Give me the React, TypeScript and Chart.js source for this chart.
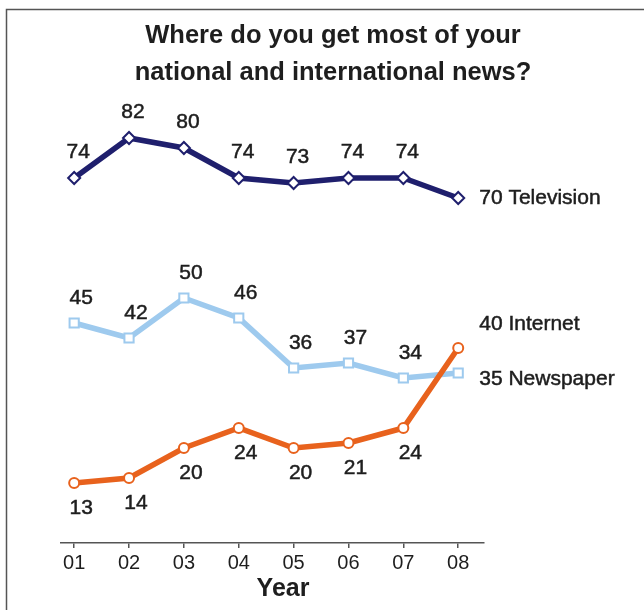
import React, { useEffect, useRef } from "react";
import { Chart, registerables } from "chart.js";

Chart.register(...registerables);

const years = ["01", "02", "03", "04", "05", "06", "07", "08"];
const television = [74, 82, 80, 74, 73, 74, 74, 70];
const internet = [13, 14, 20, 24, 20, 21, 24, 40];
const newspaper = [45, 42, 50, 46, 36, 37, 34, 35];
const seriesNames = ["Internet", "Newspaper", "Television"];
const titleLines = ["Where do you get most of your", "national and international news?"];
const axisTitle = "Year";

const FONT = "'Liberation Sans', Arial, Helvetica, sans-serif";
const TEXT = "#1e1e1e";
const NAVY = "#1f1f6d";
const LIGHT = "#9ecaee";
const ORANGE = "#e8621d";

// label placement per series (index matches datasets)
const labelStyle = [
  { dx: 7, dy: 25, endDy: -24 },
  { dx: 7, dy: -25, endDy: 6 },
  { dx: 4, dy: -26, endDy: 0 },
];

function heavyText(ctx: any, text: string, x: number, y: number, w = 0.5) {
  ctx.fillText(text, x, y);
  ctx.lineWidth = w;
  ctx.strokeStyle = ctx.fillStyle;
  ctx.strokeText(text, x, y);
}

const decorPlugin = {
  id: "decor",
  beforeDraw(chart: any) {
    const ctx = chart.ctx;
    ctx.save();
    ctx.fillStyle = "#ffffff";
    ctx.fillRect(0, 0, chart.width, chart.height);
    ctx.strokeStyle = "#555555";
    ctx.lineWidth = 1.5;
    ctx.beginPath();
    ctx.moveTo(6.5, chart.height);
    ctx.lineTo(6.5, 9.5);
    ctx.lineTo(chart.width, 9.5);
    ctx.stroke();
    ctx.restore();
  },
  afterDatasetsDraw(chart: any) {
    const ctx = chart.ctx;
    ctx.save();
    ctx.fillStyle = TEXT;
    chart.data.datasets.forEach((ds: any, di: number) => {
      const meta = chart.getDatasetMeta(di);
      const st = labelStyle[di];
      const n = ds.data.length;
      ctx.font = `21px ${FONT}`;
      ctx.textAlign = "center";
      ctx.textBaseline = "middle";
      meta.data.forEach((pt: any, i: number) => {
        if (i === n - 1) return;
        heavyText(ctx, String(ds.data[i].y), pt.x + st.dx, pt.y + st.dy);
      });
      const last = meta.data[n - 1];
      ctx.textAlign = "left";
      heavyText(ctx, `${ds.data[n - 1].y} ${ds.label}`, last.x + 21, last.y + st.endDy);
    });
    ctx.restore();
  },
  afterDraw(chart: any) {
    const ctx = chart.ctx;
    ctx.save();
    ctx.fillStyle = TEXT;
    ctx.textAlign = "center";
    ctx.textBaseline = "alphabetic";
    ctx.font = `bold 25.5px ${FONT}`;
    ctx.fillText(titleLines[0], 333, 43);
    ctx.fillText(titleLines[1], 333, 80);
    ctx.font = `bold 25px ${FONT}`;
    ctx.fillText(axisTitle, 283, 596);
    ctx.restore();
  },
};

function toPoints(values: number[]) {
  return values.map((v, i) => ({ x: i, y: v }));
}

export default function App() {
  const ref = useRef<HTMLCanvasElement | null>(null);

  useEffect(() => {
    if (!ref.current) return;
    const chart = new Chart(ref.current, {
      type: "line",
      data: {
        datasets: [
          {
            label: seriesNames[0],
            data: toPoints(internet),
            borderColor: ORANGE,
            backgroundColor: "#ffffff",
            borderWidth: 5.5,
            pointStyle: "circle",
            pointRadius: 5,
            pointBorderWidth: 2,
            pointBorderColor: ORANGE,
            pointBackgroundColor: "#ffffff",
            tension: 0,
            clip: false,
          },
          {
            label: seriesNames[1],
            data: toPoints(newspaper),
            borderColor: LIGHT,
            backgroundColor: "#ffffff",
            borderWidth: 5.5,
            pointStyle: "rect",
            pointRadius: 6.5,
            pointBorderWidth: 2,
            pointBorderColor: LIGHT,
            pointBackgroundColor: "#ffffff",
            tension: 0,
            clip: false,
          },
          {
            label: seriesNames[2],
            data: toPoints(television),
            borderColor: NAVY,
            backgroundColor: "#ffffff",
            borderWidth: 5.5,
            pointStyle: "rectRot",
            pointRadius: 6,
            pointBorderWidth: 2,
            pointBorderColor: NAVY,
            pointBackgroundColor: "#ffffff",
            tension: 0,
            clip: false,
          },
        ],
      },
      options: {
        animation: false,
        responsive: false,
        devicePixelRatio: 1,
        layout: { padding: { left: 61, right: 160, top: 98, bottom: 0 } },
        plugins: {
          legend: { display: false },
          title: { display: false },
          tooltip: { enabled: false },
        },
        scales: {
          x: {
            type: "linear",
            min: -0.24,
            max: 7.47,
            afterBuildTicks: (scale: any) => {
              scale.ticks = years.map((_, i) => ({ value: i }));
            },
            afterFit: (scale: any) => {
              scale.height = 67;
            },
            grid: {
              display: true,
              drawOnChartArea: false,
              drawTicks: true,
              tickLength: 5,
              color: "#555555",
              lineWidth: 1.5,
            },
            border: { display: true, color: "#555555", width: 1.5 },
            ticks: {
              autoSkip: false,
              maxRotation: 0,
              padding: 3,
              color: TEXT,
              font: { family: FONT, size: 20 },
              callback: (value: any) => years[value] ?? "",
            },
          },
          y: {
            display: false,
            min: 1,
            max: 90,
          },
        },
      },
      plugins: [decorPlugin],
    } as any);
    return () => chart.destroy();
  }, []);

  return (
    <div style={{ position: "fixed", left: 0, top: 0, width: 644, height: 610 }}>
      <canvas ref={ref} width={644} height={610} style={{ width: 644, height: 610, display: "block" }} />
    </div>
  );
}
